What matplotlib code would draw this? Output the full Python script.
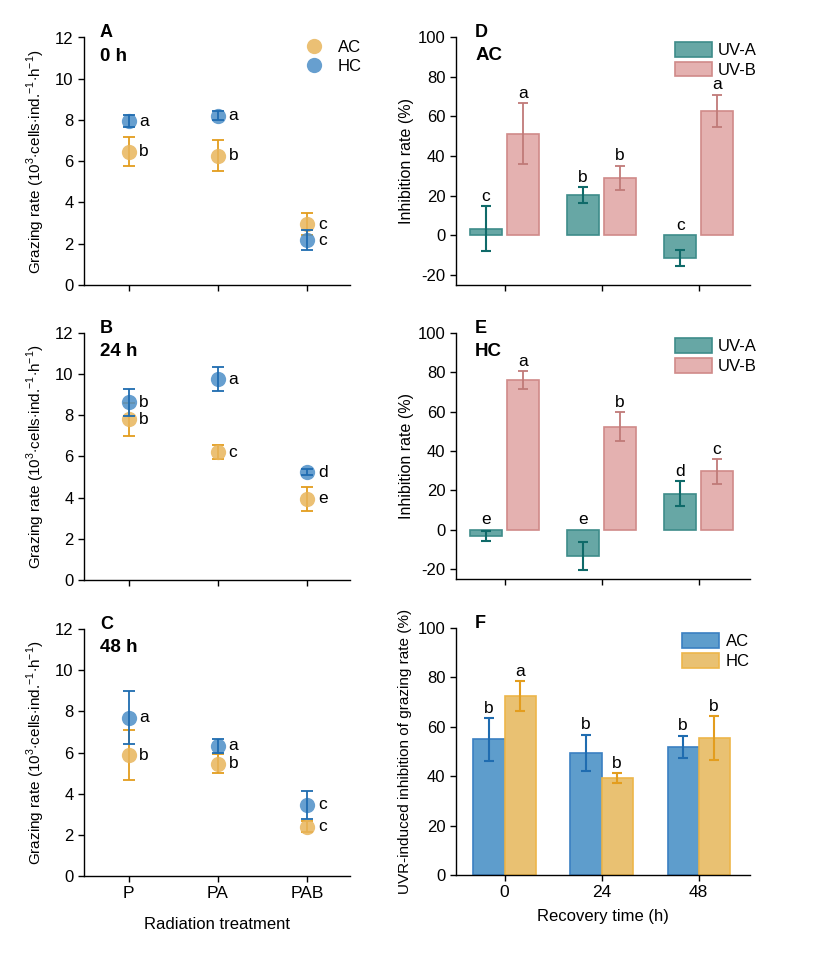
import numpy as np
import matplotlib
matplotlib.use("Agg")
import matplotlib.pyplot as plt
from matplotlib.lines import Line2D
from matplotlib.patches import Patch

plt.rcParams['font.family'] = ['Liberation Sans', 'DejaVu Sans']
plt.rcParams['font.size'] = 11
plt.rcParams['axes.unicode_minus'] = False
plt.rcParams['mathtext.fontset'] = 'custom'
plt.rcParams['mathtext.rm'] = 'Liberation Sans'

# grazing rate data (A-C)
treat = ['P', 'PA', 'PAB']
times = ['0 h', '24 h', '48 h']
ac_mean = [[6.47, 6.27, 2.95], [7.82, 6.21, 3.94], [5.87, 5.45, 2.40]]
ac_err = [[0.70, 0.75, 0.55], [0.80, 0.33, 0.58], [1.20, 0.47, 0.28]]
hc_mean = [[7.95, 8.21, 2.18], [8.63, 9.76, 5.24], [7.70, 6.32, 3.45]]
hc_err = [[0.28, 0.22, 0.50], [0.65, 0.60, 0.15], [1.27, 0.35, 0.68]]
ac_let = [['b', 'b', 'c'], ['b', 'c', 'e'], ['b', 'b', 'c']]
hc_let = [['a', 'a', 'c'], ['b', 'a', 'd'], ['a', 'a', 'c']]

# inhibition rate data (D-E)
uva_ac = [3.3, 20.2, -11.2]
uva_ac_err = [11.4, 4.0, 4.0]
uvb_ac = [51.3, 29.0, 62.7]
uvb_ac_err = [15.2, 6.2, 8.3]
uva_ac_let = ['c', 'b', 'c']
uvb_ac_let = ['a', 'b', 'a']
uva_hc = [-3.1, -13.2, 18.4]
uva_hc_err = [2.5, 7.0, 6.2]
uvb_hc = [76.0, 52.4, 29.7]
uvb_hc_err = [4.6, 7.4, 6.3]
uva_hc_let = ['e', 'e', 'd']
uvb_hc_let = ['a', 'b', 'c']

# UVR-induced inhibition (F)
rec_time = ['0', '24', '48']
uvr_ac = [54.9, 49.5, 51.8]
uvr_ac_err = [8.6, 7.3, 4.5]
uvr_hc = [72.4, 39.2, 55.3]
uvr_hc_err = [6.1, 1.9, 8.9]
uvr_ac_let = ['b', 'b', 'b']
uvr_hc_let = ['a', 'b', 'b']

c_ac = '#E8B55C'
c_ac_e = '#E39D1E'
c_hc = '#4C8EC7'
c_hc_e = '#1F6CB0'
teal = '#67A7A5'
teal_e = '#3E8C8A'
teal_err = '#0F6A69'
pink = '#E4B1B0'
pink_e = '#D08A89'
pink_err = '#C07A78'
f_blue = '#5E9DCC'
f_blue_e = '#3B80C2'
f_org = '#E9C172'
f_org_e = '#EDB64A'

fig = plt.figure(figsize=(8.16, 9.72), dpi=100)
W, H = 816, 972


def add_ax(x0, x1, y0, y1):
    return fig.add_axes([x0 / W, 1 - y1 / H, (x1 - x0) / W, (y1 - y0) / H])


def style(ax):
    ax.spines['top'].set_visible(False)
    ax.spines['right'].set_visible(False)
    ax.tick_params(direction='out', length=4, width=1, labelsize=12)
    for s in ['left', 'bottom']:
        ax.spines[s].set_linewidth(1.0)


left_rows = [(37.5, 285), (333, 580), (629, 876)]
right_rows = [(37, 285), (333, 579), (628, 875)]
x = np.arange(3)

# left column
for i in range(3):
    ax = add_ax(84, 350, *left_rows[i])
    style(ax)
    ax.errorbar(x, ac_mean[i], yerr=ac_err[i], fmt='none', ecolor=c_ac_e,
                elinewidth=1.3, capsize=4, capthick=1.3, zorder=2)
    ax.plot(x, ac_mean[i], 'o', ms=11, color=c_ac, alpha=0.85, mec='none', zorder=3)
    ax.plot(x, hc_mean[i], 'o', ms=11, color=c_hc, alpha=0.85, mec='none', zorder=4)
    ax.errorbar(x, hc_mean[i], yerr=hc_err[i], fmt='none', ecolor=c_hc_e,
                elinewidth=1.3, capsize=4, capthick=1.3, zorder=5)
    for j in range(3):
        ax.text(j + 0.12, ac_mean[i][j], ac_let[i][j], fontsize=12.5, va='center', ha='left')
        ax.text(j + 0.12, hc_mean[i][j], hc_let[i][j], fontsize=12.5, va='center', ha='left')
    ax.set_xlim(-0.5, 2.48)
    ax.set_ylim(0, 12)
    ax.set_yticks(range(0, 13, 2))
    ax.set_xticks(x)
    if i == 2:
        ax.set_xticklabels(treat, fontsize=12.5)
        ax.set_xlabel('Radiation treatment', fontsize=12, labelpad=11)
    else:
        ax.set_xticklabels([])
    ax.set_ylabel(r'Grazing rate (10$^{3}$$\cdot$cells$\cdot$ind.$^{\mathrm{-}1}$$\cdot$h$^{\mathrm{-}1}$)',
                  fontsize=11, labelpad=6)
    ax.text(0.06, 1.02, 'ABC'[i], transform=ax.transAxes, fontsize=13,
            fontweight='bold', va='center')
    ax.text(0.06, 0.925, times[i], transform=ax.transAxes, fontsize=13.5,
            fontweight='bold', va='center')
    if i == 0:
        hs = [Line2D([], [], marker='o', ls='none', ms=11, color=c_ac, alpha=0.85, mec='none'),
              Line2D([], [], marker='o', ls='none', ms=11, color=c_hc, alpha=0.85, mec='none')]
        ax.legend(hs, ['AC', 'HC'], loc='upper right', frameon=False, fontsize=12,
                  handletextpad=0.4, bbox_to_anchor=(1.10, 1.05), labelspacing=0.25)


def uv_panel(ax, a, ae, b, be, la, lb, lab1, lab2):
    w = 0.33
    off = 0.19
    ax.bar(x - off, a, w, color=teal, edgecolor=teal_e, lw=1.2, zorder=2)
    ax.bar(x + off, b, w, color=pink, edgecolor=pink_e, lw=1.2, zorder=2)
    ax.errorbar(x - off, a, yerr=ae, fmt='none', ecolor=teal_err, elinewidth=1.5,
                capsize=3.5, capthick=1.5, zorder=3)
    ax.errorbar(x + off, b, yerr=be, fmt='none', ecolor=pink_err, elinewidth=1.3,
                capsize=3.5, capthick=1.3, zorder=3)
    for j in range(3):
        ax.text(j - off, max(a[j] + ae[j], 0) + 1.2, la[j], ha='center', va='bottom', fontsize=12.5)
        ax.text(j + off, max(b[j] + be[j], 0) + 1.2, lb[j], ha='center', va='bottom', fontsize=12.5)
    ax.set_xlim(-0.5, 2.53)
    ax.set_ylim(-25, 100)
    ax.set_yticks(range(-20, 101, 20))
    ax.set_xticks(x)
    ax.set_xticklabels([])
    ax.set_ylabel('Inhibition rate (%)', fontsize=11.5, labelpad=3)
    ax.text(0.065, 1.02, lab1, transform=ax.transAxes, fontsize=13, fontweight='bold', va='center')
    ax.text(0.065, 0.925, lab2, transform=ax.transAxes, fontsize=13.5, fontweight='bold', va='center')
    hs = [Patch(facecolor=teal, edgecolor=teal_e, lw=1.2), Patch(facecolor=pink, edgecolor=pink_e, lw=1.2)]
    ax.legend(hs, ['UV-A', 'UV-B'], loc='upper right', frameon=False, fontsize=12,
              bbox_to_anchor=(1.075, 1.04), handlelength=2.2, handleheight=1.0,
              handletextpad=0.4, labelspacing=0.2)


axd = add_ax(456, 750, *right_rows[0])
style(axd)
uv_panel(axd, uva_ac, uva_ac_err, uvb_ac, uvb_ac_err, uva_ac_let, uvb_ac_let, 'D', 'AC')

axe = add_ax(456, 750, *right_rows[1])
style(axe)
uv_panel(axe, uva_hc, uva_hc_err, uvb_hc, uvb_hc_err, uva_hc_let, uvb_hc_let, 'E', 'HC')

# panel F
axf = add_ax(456, 750, *right_rows[2])
style(axf)
w = 0.32
off = 0.16
axf.bar(x - off, uvr_ac, w, color=f_blue, edgecolor=f_blue_e, lw=1.2, zorder=2)
axf.bar(x + off, uvr_hc, w, color=f_org, edgecolor=f_org_e, lw=1.2, zorder=2)
axf.errorbar(x - off, uvr_ac, yerr=uvr_ac_err, fmt='none', ecolor=c_hc_e,
             elinewidth=1.5, capsize=3.5, capthick=1.5, zorder=3)
axf.errorbar(x + off, uvr_hc, yerr=uvr_hc_err, fmt='none', ecolor=c_ac_e,
             elinewidth=1.5, capsize=3.5, capthick=1.5, zorder=3)
for j in range(3):
    axf.text(j - off, uvr_ac[j] + uvr_ac_err[j] + 1.0, uvr_ac_let[j], ha='center',
             va='bottom', fontsize=12.5)
    axf.text(j + off, uvr_hc[j] + uvr_hc_err[j] + 1.0, uvr_hc_let[j], ha='center',
             va='bottom', fontsize=12.5)
axf.set_xlim(-0.5, 2.53)
axf.set_ylim(0, 100)
axf.set_yticks(range(0, 101, 20))
axf.set_xticks(x)
axf.set_xticklabels(rec_time, fontsize=12.5)
axf.set_xlabel('Recovery time (h)', fontsize=12, labelpad=6)
axf.set_ylabel('UVR-induced inhibition of grazing rate (%)', fontsize=11, labelpad=4)
axf.text(0.065, 1.02, 'F', transform=axf.transAxes, fontsize=13, fontweight='bold', va='center')
hs = [Patch(facecolor=f_blue, edgecolor=f_blue_e, lw=1.2), Patch(facecolor=f_org, edgecolor=f_org_e, lw=1.2)]
axf.legend(hs, ['AC', 'HC'], loc='upper right', frameon=False, fontsize=12,
           bbox_to_anchor=(1.05, 1.04), handlelength=2.2, handleheight=1.0,
           handletextpad=0.4, labelspacing=0.2)

fig.savefig('out.png', dpi=100)
